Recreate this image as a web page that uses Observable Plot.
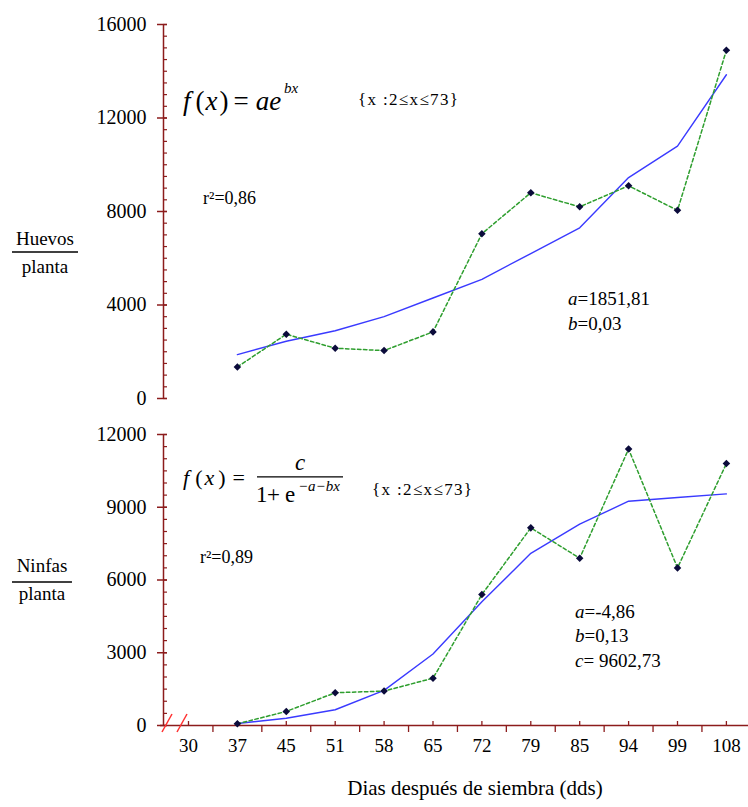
<!DOCTYPE html>
<html><head><meta charset="utf-8">
<script src="https://cdn.jsdelivr.net/npm/d3@7"></script>
<script src="https://cdn.jsdelivr.net/npm/@observablehq/plot@0.6"></script>
<style>
body{margin:0;background:#fff;}
#chart{width:748px;height:807px;background:#fff;}
#chart svg{display:block;}
</style></head><body><div id="chart"></div>
<script>
// ---- data ----
const days = ["30","37","45","51","58","65","72","79","85","94","99","108"];
const huevosObs = [null,1350,2750,2150,2050,2850,7050,8800,8200,9100,8050,14900];
const huevosFit = [null,1880,2450,2900,3500,4300,5100,6200,7300,9450,10800,13850];
const ninfasObs = [null,70,580,1350,1420,1950,5400,8150,6900,11400,6500,10800];
const ninfasFit = [null,80,300,650,1450,2950,5100,7100,8300,9250,9400,9550];
const huevosTicks = [0,4000,8000,12000,16000];
const ninfasTicks = [0,3000,6000,9000,12000];
const minorStep = 500;
const huevosLabel = ["Huevos","planta"];
const ninfasLabel = ["Ninfas","planta"];
const huevosR2 = "r²=0,86";
const ninfasR2 = "r²=0,89";
const domainText = "{x :2≤x≤73}";
const huevosParams = [["a","=1851,81"],["b","=0,03"]];
const ninfasParams = [["a","=-4,86"],["b","=0,13"],["c","= 9602,73"]];
const xTitle = "Dias después de siembra (dds)";

// ---- styles ----
const W = 748;
const ML = 163;
const xDomain = [-0.511, 11.452];
const AXIS = "#8c1c1c";
const BLUE = "#3a3aff";
const GREEN = "#2e9e2e";
const DOT = "#0b0b3b";
const FONT = "'Liberation Serif','Times New Roman','DejaVu Serif',serif";

function txt(g, x, y, parts, size, o = {}) {
  const t = g.append("text").attr("x", x).attr("y", y)
    .attr("font-size", size).attr("font-family", FONT).attr("fill", "black")
    .attr("text-anchor", o.anchor || "start").style("white-space", "normal");
  if (o.len) t.attr("textLength", o.len).attr("lengthAdjust", "spacing");
  for (const p of parts) {
    const s = t.append("tspan").text(p.t);
    if (p.i) s.attr("font-style", "italic");
    if (p.dx) s.attr("dx", p.dx);
  }
  return t;
}
function hline(g, x1, x2, y, w = 1.4) {
  g.append("line").attr("x1", x1).attr("x2", x2).attr("y1", y).attr("y2", y)
    .attr("stroke", "black").attr("stroke-width", w);
}
function richNote(draw) {
  return (index, scales) => {
    const g = d3.create("svg:g").attr("text-anchor", "start");
    draw(g, scales.x, scales.y);
    return g.node();
  };
}
function fracLabel(g, cx, cy, half, words, up, down) {
  txt(g, cx, cy + up, [{t: words[0]}], 19, {anchor: "middle"});
  hline(g, cx - half, cx + half, cy, 1.5);
  txt(g, cx, cy + down, [{t: words[1]}], 19, {anchor: "middle"});
}
function params(g, x0, y0, gap, list) {
  list.forEach(([k, v], j) => txt(g, x0, y0 + j * gap, [{t: k, i: 1}, {t: v}], 19));
}

function panel({obs, fit, yTicks, height, marginBottom, notes, xAxis}) {
  const yMax = yTicks[yTicks.length - 1];
  const rows = days.map((d, i) => ({i, day: d, obs: obs[i], fit: fit[i]})).filter(r => r.obs != null);
  const minor = d3.range(0, yMax + 1, minorStep);
  const frameW = W - ML;
  const frameH = height - 24 - marginBottom;
  const marks = [
    Plot.ruleX([xDomain[0]], {stroke: AXIS, strokeWidth: 1.5}),
    Plot.tickY(minor, {y: d => d, stroke: AXIS, strokeWidth: 1.2, insetRight: frameW - 4}),
    Plot.tickY(yTicks, {y: d => d, stroke: AXIS, strokeWidth: 1.5, insetLeft: -6, insetRight: frameW - 4}),
    Plot.text(yTicks, {y: d => d, text: d => String(d), frameAnchor: "left", textAnchor: "end", dx: -17, fontSize: 20, fill: "black", fontFamily: FONT})
  ];
  if (xAxis) {
    const idx = days.map((d, i) => i);
    const mids = idx.slice(0, -1).map(i => i + 0.5);
    marks.push(
      Plot.ruleY([0], {stroke: AXIS, strokeWidth: 1.5, insetLeft: -3}),
      Plot.tickX(idx, {x: d => d, stroke: AXIS, strokeWidth: 1.3, insetTop: frameH - 4}),
      Plot.tickX(mids, {x: d => d, stroke: AXIS, strokeWidth: 1.3, insetTop: frameH, insetBottom: -7}),
      Plot.text(days, {x: (d, i) => i, text: d => d, frameAnchor: "bottom", dy: 26, fontSize: 19, fill: "black", fontFamily: FONT}),
      Plot.text([xTitle], {frameAnchor: "bottom", dx: 19, dy: 69, fontSize: 21, fill: "black", fontFamily: FONT}),
      richNote((g, x, y) => {
        const ox = x(xDomain[0]), oy = y(0);
        for (const s of [0, 15]) {
          g.append("line").attr("x1", ox - 1 + s).attr("y1", oy + 7).attr("x2", ox + 9 + s).attr("y2", oy - 11)
            .attr("stroke", "#ff3030").attr("stroke-width", 1.5);
        }
      })
    );
  }
  marks.push(
    Plot.line(rows, {x: "i", y: "fit", stroke: BLUE, strokeWidth: 1.4}),
    Plot.line(rows, {x: "i", y: "obs", stroke: GREEN, strokeWidth: 1.5, strokeDasharray: "3.5,2.5"}),
    Plot.dot(rows, {x: "i", y: "obs", symbol: "diamond2", r: 3.4, fill: DOT, stroke: "none"}),
    richNote(notes)
  );
  return Plot.plot({
    width: W, height, marginLeft: ML, marginRight: 0, marginTop: 24, marginBottom,
    x: {type: "linear", domain: xDomain, axis: null},
    y: {domain: [0, yMax], axis: null},
    style: {fontFamily: FONT, background: "white", overflow: "visible"},
    marks
  });
}

const topPanel = panel({
  obs: huevosObs, fit: huevosFit, yTicks: huevosTicks, height: 410, marginBottom: 12, xAxis: false,
  notes: (g, x, y) => {
    const fx = x(-0.102), fy = y(12321);
    txt(g, fx, fy, [{t:"f",i:1},{t:"(",dx:5},{t:"x",i:1,dx:1},{t:")",dx:2},{t:"=",dx:5},{t:"ae",i:1,dx:7}], 27);
    txt(g, fx + 101, fy - 17, [{t: "bx", i: 1}], 15);
    txt(g, x(3.476), y(12535), [{t: domainText}], 17, {len: 100});
    txt(g, x(0.307), y(8299), [{t: huevosR2}], 18);
    params(g, x(7.771), y(3979), 25, huevosParams);
    fracLabel(g, x(-2.924), y(6246), 33, huevosLabel, -7, 21);
  }
});

const bottomPanel = panel({
  obs: ninfasObs, fit: ninfasFit, yTicks: ninfasTicks, height: 397, marginBottom: 82, xAxis: true,
  notes: (g, x, y) => {
    const fx = x(-0.102), fy = y(9898);
    txt(g, fx, fy, [{t:"f",i:1},{t:"(",dx:6},{t:"x",i:1,dx:2},{t:")",dx:4},{t:"=",dx:7}], 22);
    txt(g, fx + 117, fy - 15, [{t: "c", i: 1}], 23, {anchor: "middle"});
    hline(g, fx + 74, fx + 160, fy - 8, 1.3);
    txt(g, fx + 73, fy + 17, [{t: "1"}], 23);
    txt(g, fx + 84, fy + 17, [{t: "+"}], 23);
    txt(g, fx + 102, fy + 17, [{t: "e"}], 23);
    txt(g, fx + 115, fy + 6, [{t: "−a−bx", i: 1}], 15);
    txt(g, x(3.763), y(9485), [{t: domainText}], 17, {len: 100});
    txt(g, x(0.245), y(6681), [{t: ninfasR2}], 18);
    params(g, x(7.914), y(4413), 24.5, ninfasParams);
    fracLabel(g, x(-2.986), y(5897), 30, ninfasLabel, -10, 18);
  }
});

document.getElementById("chart").append(topPanel, bottomPanel);
</script>
</body></html>
